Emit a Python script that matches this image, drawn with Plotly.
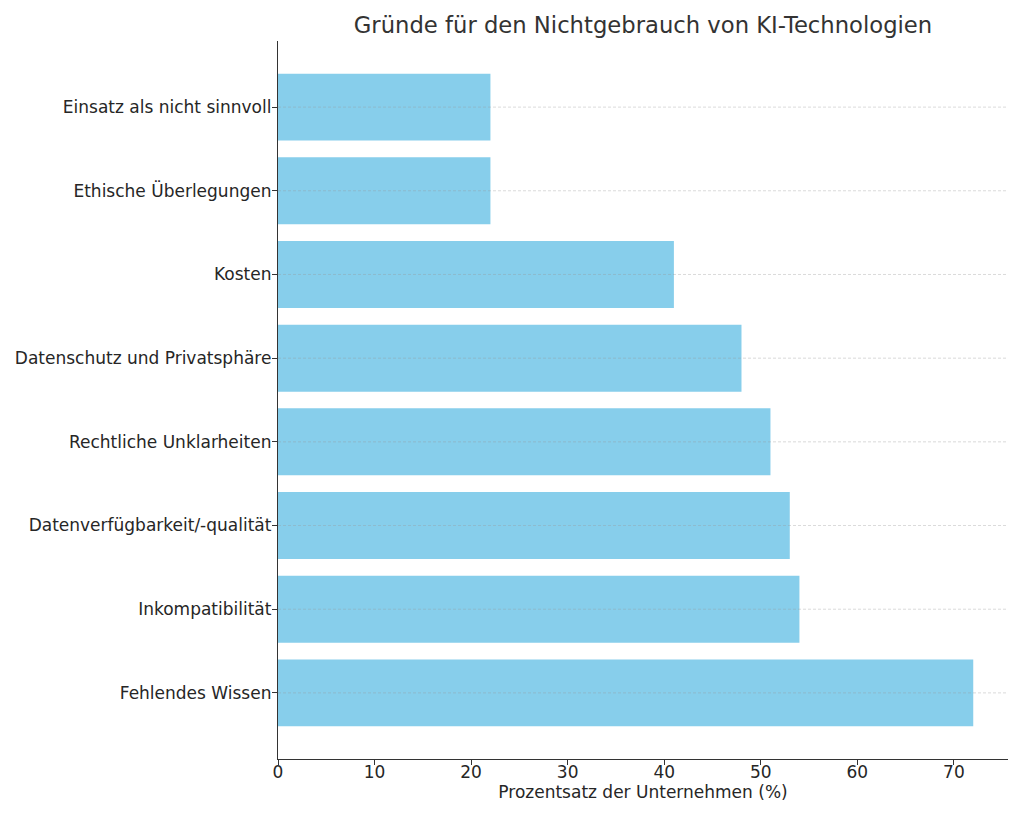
import plotly.graph_objects as go

categories = [
    "Fehlendes Wissen",
    "Inkompatibilität",
    "Datenverfügbarkeit/-qualität",
    "Rechtliche Unklarheiten",
    "Datenschutz und Privatsphäre",
    "Kosten",
    "Ethische Überlegungen",
    "Einsatz als nicht sinnvoll",
]
values = [72, 54, 53, 51, 48, 41, 22, 22]
x_ticks = [0, 10, 20, 30, 40, 50, 60, 70]

title_text = "Gründe für den Nichtgebrauch von KI-Technologien"
x_label = "Prozentsatz der Unternehmen (%)"

font_family = "DejaVu Sans"
text_color = "#262626"

fig = go.Figure(
    go.Bar(
        x=values,
        y=categories,
        orientation="h",
        marker=dict(color="#87CEEB", line=dict(width=0)),
        hoverinfo="x+y",
    )
)

# dashed grid lines drawn over bars (like matplotlib's grid)
for c in categories:
    fig.add_shape(
        type="line",
        xref="paper", x0=0, x1=1,
        yref="y", y0=c, y1=c,
        layer="above",
        line=dict(color="rgba(150,150,150,0.45)", width=0.8, dash="3px,2px"),
    )

n = len(categories)
xmax = max(values) * 1.05

fig.update_layout(
    width=1024,
    height=819,
    margin=dict(l=278, r=16, t=41, b=60, autoexpand=False),
    paper_bgcolor="white",
    plot_bgcolor="white",
    bargap=0.2,
    showlegend=False,
    font=dict(family=font_family, color=text_color, size=17),
    title=dict(
        text=title_text,
        x=(278 + 1008) / 2 / 1024,
        xanchor="center",
        y=1 - 25 / 819,
        yanchor="middle",
        font=dict(family=font_family, size=22.7, color="#333333"),
    ),
    xaxis=dict(
        range=[0, xmax],
        tickvals=x_ticks,
        ticktext=[str(t) for t in x_ticks],
        ticks="outside",
        ticklen=5,
        tickwidth=1,
        tickcolor="#333333",
        showline=True,
        linecolor="#333333",
        linewidth=1.3,
        showgrid=False,
        zeroline=False,
        automargin=False,
        ticklabelstandoff=-8,
        tickfont=dict(size=17, color=text_color),
        title=dict(text=x_label, font=dict(size=17, color=text_color), standoff=5),
    ),
    yaxis=dict(
        categoryorder="array",
        categoryarray=categories,
        range=[-0.79, n - 1 + 0.79],
        ticks="outside",
        ticklen=5,
        tickwidth=1,
        tickcolor="#333333",
        showline=True,
        linecolor="#333333",
        linewidth=1.3,
        showgrid=False,
        zeroline=False,
        automargin=False,
        ticklabelstandoff=-3,
        tickfont=dict(size=17, color=text_color),
    ),
)

fig.write_html(
    "out.html",
    config={"displayModeBar": False},
    post_script="document.body.style.margin='0px';",
)
